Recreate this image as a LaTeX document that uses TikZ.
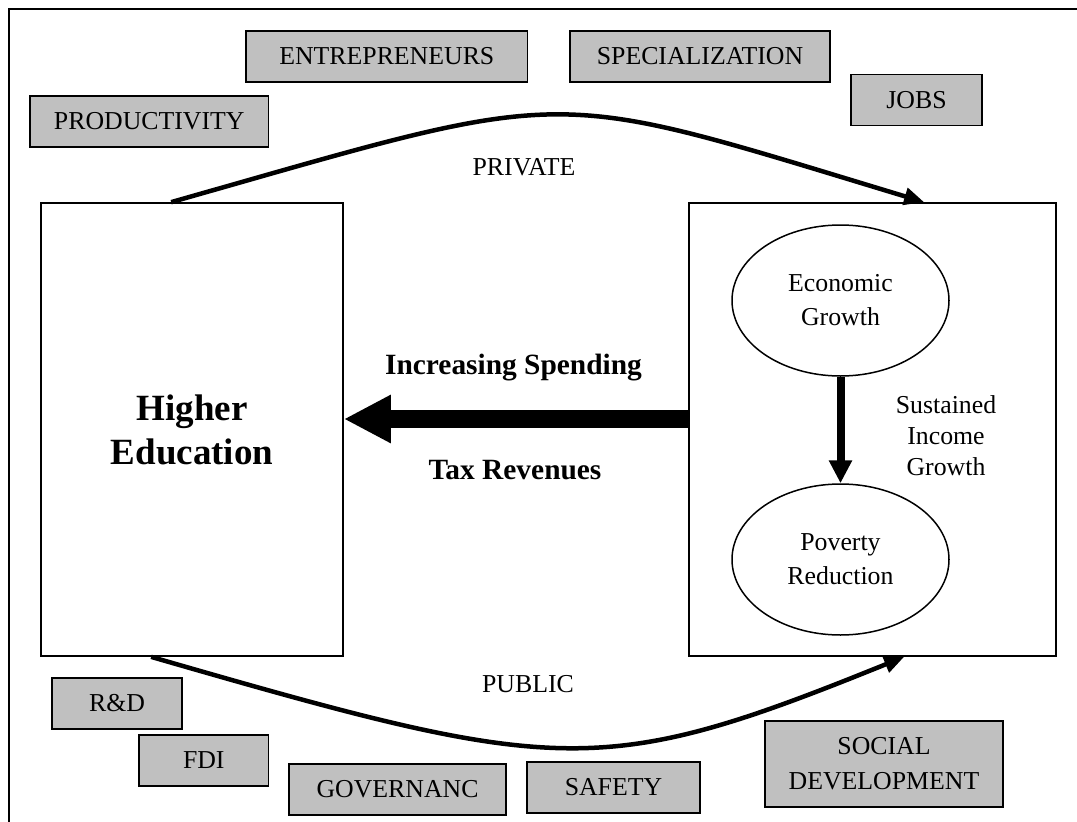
\documentclass[tikz,border=0pt]{standalone}
\usepackage{fontspec}
\setmainfont{Liberation Serif}
\usetikzlibrary{arrows.meta,shapes.geometric}
\definecolor{boxgray}{RGB}{192,192,192}
\newcommand{\boxfont}{\fontsize{25.8}{31}\selectfont}

\begin{document}
\begin{tikzpicture}[x=1pt,y=-1pt,
  factor/.style={draw, fill=boxgray, line width=1.7pt, minimum height=51pt, inner sep=0pt, font=\boxfont},
  panel/.style={draw, line width=1.7pt, inner sep=0pt, minimum width=#1, minimum height=453pt},
  bubble/.style={draw, ellipse, line width=1.5pt, minimum width=217pt, minimum height=151pt, inner sep=0pt, align=center, font=\fontsize{25.8}{34}\selectfont},
  flow/.style={line width=4.5pt, -{Triangle[length=20pt,width=17pt]}},
  boldlabel/.style={font=\bfseries\fontsize{29.4}{35}\selectfont, anchor=base}]
\useasboundingbox (0,0) rectangle (1077,822);
% outer frame (runs off the page on the right and bottom)
\draw[line width=2pt] (9,9) rectangle (1100,850);

% the two main panels
\node[panel=302pt, align=center, font=\bfseries\fontsize{37}{44}\selectfont] (hied) at (192,429.5) {Higher\\Education};
\node[panel=367pt] (outcome) at (872.5,429.5) {};
\node[bubble] (growth) at (840.5,300.5) {Economic\\Growth};
\node[bubble] (poverty) at (840.5,559.5) {Poverty\\Reduction};
\node[align=center, font=\boxfont] (sustain) at (946,436) {Sustained\\Income\\Growth};

% private returns
\node[factor, minimum width=238.6pt] (prod) at (149.3,121.5) {PRODUCTIVITY};
\node[factor, minimum width=281.5pt] (entre) at (386.8,56.5) {ENTREPRENEURS};
\node[factor, minimum width=260pt] (spec) at (700,56.5) {SPECIALIZATION};
\node[factor, minimum width=131pt] (jobs) at (916.5,100) {JOBS};

% public returns
\node[factor, minimum width=130pt] (rnd) at (117,703.5) {R\&D};
\node[factor, minimum width=129.6pt] (fdi) at (203.8,760.5) {FDI};
\node[factor, minimum width=217pt] (gov) at (397.5,789.5) {GOVERNANC};
\node[factor, minimum width=173pt] (safety) at (613.5,787.5) {SAFETY};
\node[factor, minimum width=238pt, minimum height=86pt, align=center, font=\fontsize{25.8}{35}\selectfont] (social) at (884,764) {SOCIAL\\DEVELOPMENT};

\node[font=\boxfont] (private) at (524,167) {PRIVATE};
\node[font=\boxfont] (public) at (528,684) {PUBLIC};
\node[boldlabel] (spend) at (513.5,374) {Increasing Spending};
\node[boldlabel] (tax) at (515,479) {Tax Revenues};

% arrows
\coordinate (lvl) at (0,419);
\draw[line width=18pt, -{Triangle[length=47pt,width=45pt]}] (outcome.west |- lvl) -- (hied.east |- lvl);
\draw[line width=8pt, -{Triangle[length=23pt,width=22pt]}] (growth.south) -- (poverty.north);
\draw[flow] ([xshift=131pt]hied.north west) .. controls (580,86) and (540,86) .. ([xshift=236pt]outcome.north west);
\draw[flow] ([xshift=111pt]hied.south west) .. controls (560,775) and (600,780) .. ([xshift=216pt]outcome.south west);
\end{tikzpicture}
\end{document}
